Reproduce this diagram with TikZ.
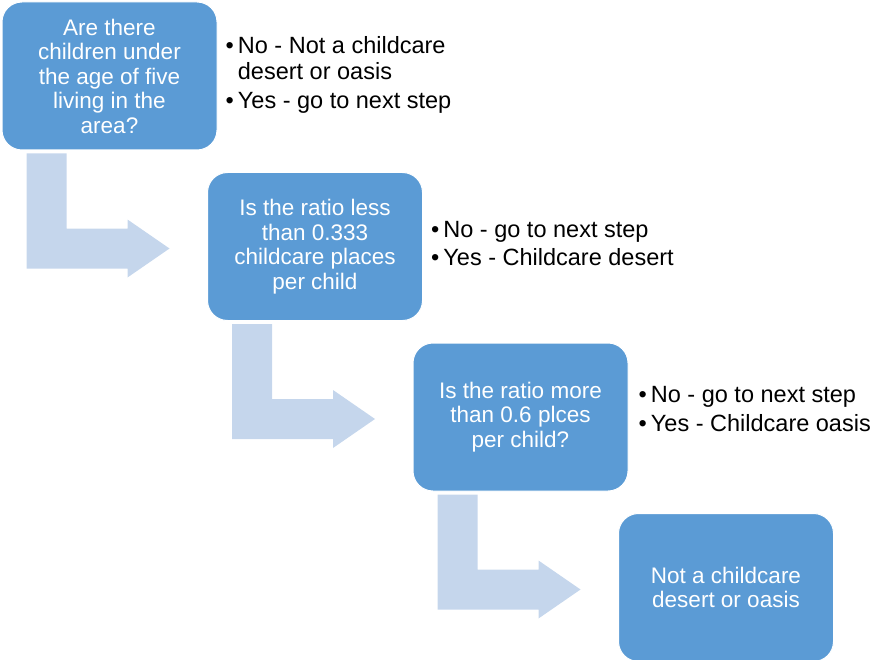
\documentclass[tikz,border=0pt]{standalone}
\usepackage{fontspec}
\setmainfont{Liberation Sans}
\usetikzlibrary{positioning,calc}
\definecolor{boxblue}{HTML}{5B9BD5}
\definecolor{arrowblue}{HTML}{C5D6EC}

\begin{document}
\begin{tikzpicture}[x=1pt, y=-1pt,
    question/.style={draw=white, line width=1pt, rounded corners=20pt, minimum width=215pt, minimum height=148pt, fill=boxblue, text=white, align=center, font=\fontsize{22.5}{24.5}\selectfont},
    answers/.style={anchor=west, inner sep=0pt, xshift=8pt, font=\fontsize{23.5}{26}\selectfont},
    bendarrow/.style={fill=arrowblue}
]
\useasboundingbox (0,0) rectangle (874,660);

\node[question] (area) at (109.5,76) {Are there\\children under\\the age of five\\living in the\\area?};
\node[question, below right=21.5pt and -10.5pt of area] (less) {Is the ratio less\\than 0.333\\childcare places\\per child};
\node[question, below right=21.5pt and -10.5pt of less] (more) {Is the ratio more\\than 0.6 plces\\per child?};
\node[question, below right=21.5pt and -10.5pt of more] (none) {Not a childcare\\desert or oasis};

% Bent arrows
\foreach \a in {area, less, more} {
    \fill[bendarrow] ($(\a.south west)+(25,3)$) -- ++(40,0) -- ++(0,75) -- ++(61,0) -- ++(0,-9) -- ++(42,29) -- ++(-42,29) -- ++(0,-9) -- ++(-101,0) -- cycle;
}

% Answers
\node[answers] (areaans) at (area.east) {\begin{tabular}{@{}l@{\hspace{4pt}}l@{}}\textbullet & No - Not a childcare\\ & desert or oasis\\[3pt] \textbullet & Yes - go to next step\end{tabular}};
\node[answers] (lessans) at (less.east) {\begin{tabular}{@{}l@{\hspace{4pt}}l@{}}\textbullet & No - go to next step\\[2pt] \textbullet & Yes - Childcare desert\end{tabular}};
\node[answers, xshift=2pt, yshift=5pt] (moreans) at (more.east) {\begin{tabular}{@{}l@{\hspace{4pt}}l@{}}\textbullet & No - go to next step\\[3pt] \textbullet & Yes - Childcare oasis\end{tabular}};

\end{tikzpicture}
\end{document}
